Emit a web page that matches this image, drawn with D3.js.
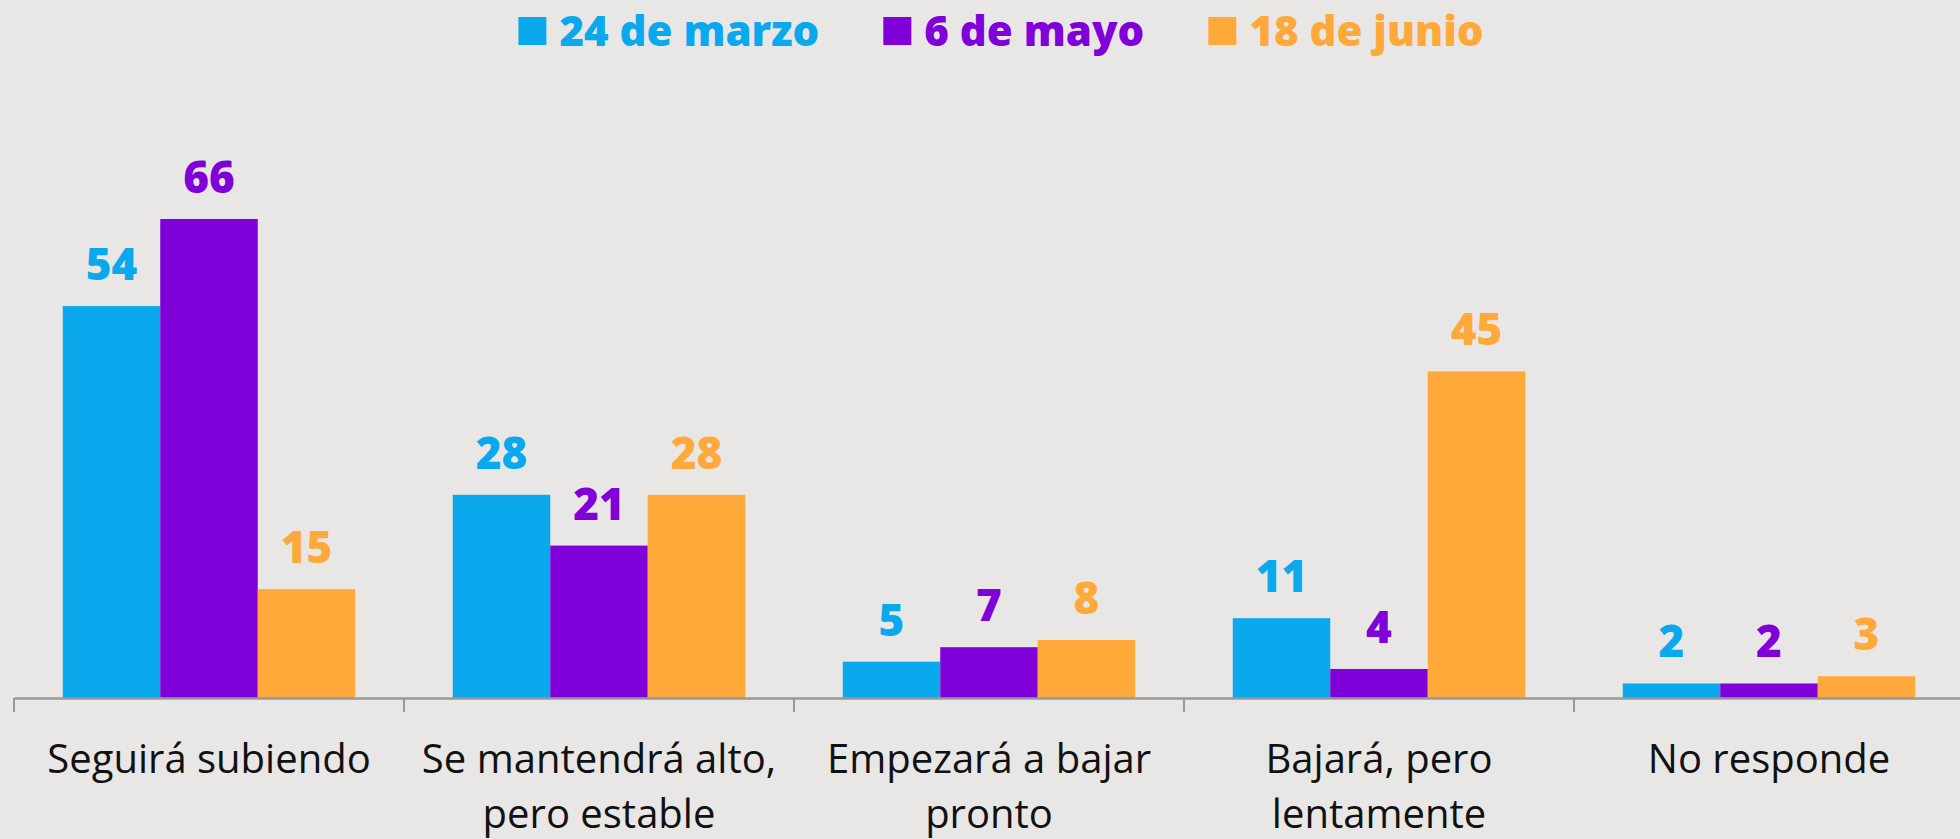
<!DOCTYPE html>
<html>
<head>
<meta charset="utf-8">
<script src="https://cdn.jsdelivr.net/npm/d3@7"></script>
<style>
  html, body { margin: 0; padding: 0; background: #e8e7e5; }
  svg { display: block; }
</style>
</head>
<body>
<div id="chart"></div>
<script>
// categories (split into the lines shown under the axis)
var categories = [
  ["Seguirá subiendo"],
  ["Se mantendrá alto,", "pero estable"],
  ["Empezará a bajar", "pronto"],
  ["Bajará, pero", "lentamente"],
  ["No responde"]
];
var seriesNames = ["24 de marzo", "6 de mayo", "18 de junio"];
var marzo = [54, 28, 5, 11, 2];
var mayo = [66, 21, 7, 4, 2];
var junio = [15, 28, 8, 45, 3];
var seriesValues = [marzo, mayo, junio];
var colors = ["#0aa8ec", "#7f00d8", "#ffa93a"];

var width = 1960, height = 839;
var baseY = 698;

var svg = d3.select("#chart").append("svg")
    .attr("width", width)
    .attr("height", height);

var catKeys = categories.map(function(c) { return c.join(" "); });

var x = d3.scaleBand()
    .domain(catKeys)
    .range([14, 1964])
    .padding(0);

var xs = d3.scaleBand()
    .domain(seriesNames)
    .range([0, x.bandwidth()])
    .paddingInner(0)
    .paddingOuter(0.5);

var y = d3.scaleLinear()
    .domain([0, 66])
    .range([baseY, 219]);

// bars
var groups = svg.append("g").attr("class", "groups")
  .selectAll("g")
  .data(catKeys)
  .enter().append("g")
    .attr("transform", function(d) { return "translate(" + x(d) + ",0)"; });

function rows(d, i) {
  return seriesNames.map(function(s, j) { return { s: s, j: j, v: seriesValues[j][i] }; });
}

groups.selectAll("rect")
  .data(rows)
  .enter().append("rect")
    .attr("x", function(d) { return xs(d.s); })
    .attr("y", function(d) { return y(d.v); })
    .attr("width", xs.bandwidth())
    .attr("height", function(d) { return baseY - y(d.v); })
    .attr("fill", function(d) { return colors[d.j]; });

groups.selectAll("text.val")
  .data(rows)
  .enter().append("text")
    .attr("class", "val")
    .attr("x", function(d) { return xs(d.s) + xs.bandwidth() / 2; })
    .attr("y", function(d) { return y(d.v) - 26; })
    .attr("text-anchor", "middle")
    .style("font-family", "'Open Sans', sans-serif")
    .style("font-weight", "800")
    .style("font-size", "44px")
    .style("fill", function(d) { return colors[d.j]; })
    .text(function(d) { return d.v; });

// axis: line along baseline with ticks on the band edges
var axis = svg.append("g")
    .attr("transform", "translate(0," + baseY + ")")
    .call(d3.axisBottom(x).tickSize(0).tickFormat(""));
axis.select(".domain").attr("stroke", "#999").attr("stroke-width", 2.5);

axis.selectAll("line.edge")
  .data(catKeys)
  .enter().append("line")
    .attr("class", "edge")
    .attr("x1", function(d) { return x(d); })
    .attr("x2", function(d) { return x(d); })
    .attr("y1", 0)
    .attr("y2", 14)
    .attr("stroke", "#999")
    .attr("stroke-width", 2);

// category labels
var labels = svg.append("g").attr("class", "labels")
  .selectAll("text")
  .data(categories)
  .enter().append("text")
    .attr("text-anchor", "middle")
    .attr("x", function(d, i) { return x(catKeys[i]) + x.bandwidth() / 2; })
    .attr("y", 773)
    .style("font-family", "'Open Sans', sans-serif")
    .style("font-size", "40px")
    .style("fill", "#111");

labels.selectAll("tspan")
  .data(function(d) { return d; })
  .enter().append("tspan")
    .attr("x", function() { return d3.select(this.parentNode).attr("x"); })
    .attr("dy", function(d, i) { return i === 0 ? 0 : 55; })
    .text(function(d) { return d; });

// legend
var legend = svg.append("g").attr("class", "legend");
var items = legend.selectAll("g")
  .data(seriesNames)
  .enter().append("g");

items.append("rect")
    .attr("width", 28)
    .attr("height", 28)
    .attr("y", 17)
    .attr("fill", function(d, i) { return colors[i]; });

items.append("text")
    .attr("x", 41)
    .attr("y", 46)
    .style("font-family", "'Open Sans', sans-serif")
    .style("font-weight", "800")
    .style("font-size", "42px")
    .style("fill", function(d, i) { return colors[i]; })
    .text(function(d) { return d; });

var pos = 0, offsets = [];
items.each(function() {
  offsets.push(pos);
  pos += 41 + this.querySelector("text").getComputedTextLength() + 64;
});
var total = pos - 64;
var startX = 1001 - total / 2;
items.attr("transform", function(d, i) { return "translate(" + (startX + offsets[i]) + ",0)"; });
</script>
</body>
</html>
